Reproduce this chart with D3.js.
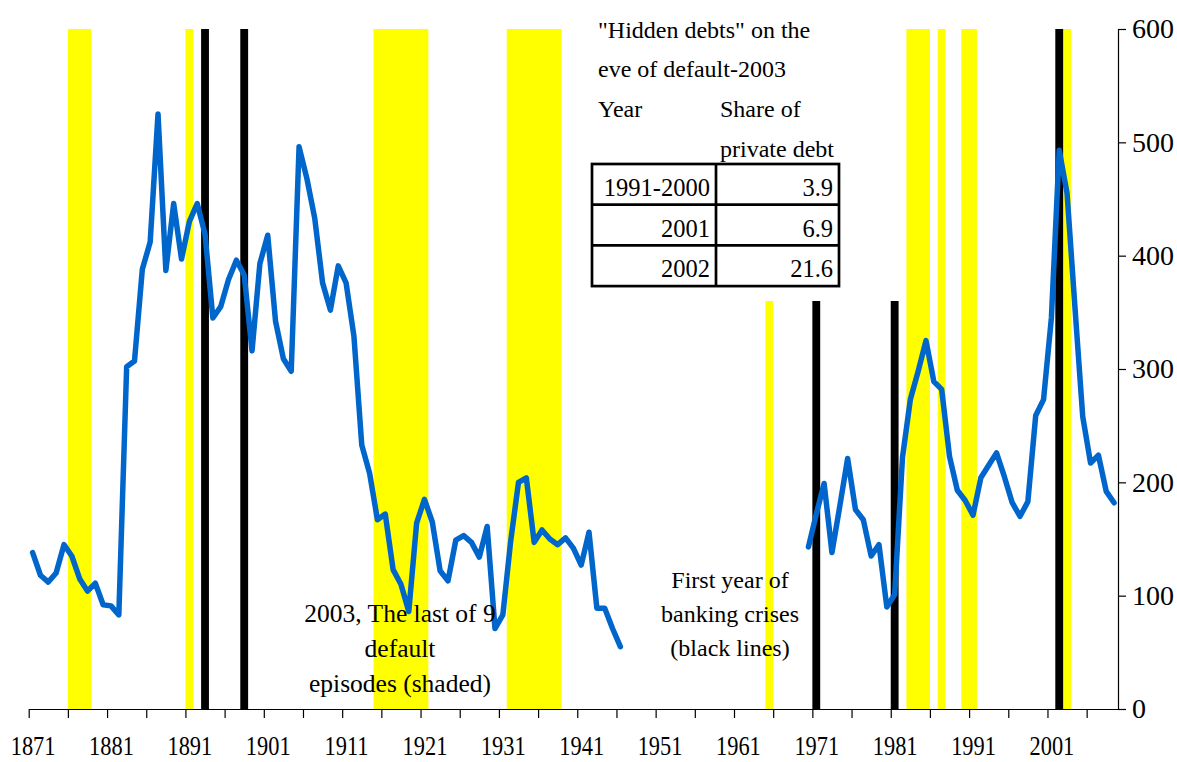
<!DOCTYPE html>
<html>
<head>
<meta charset="utf-8">
<script src="https://cdn.jsdelivr.net/npm/d3@7"></script>
<style>
  body { margin: 0; background: #fff; }
  text { font-family: "Liberation Serif", "Times New Roman", serif; fill: #000; }
</style>
</head>
<body>
<svg width="1177" height="762"></svg>
<script>
// debt series, two stretches with a gap in between
const earlyStart = 1871;
const debtEarly = [
  138, 118, 112, 120, 145, 135, 115, 104, 111, 92, 91, 83,
  302, 307, 388, 412, 525, 387, 446, 397, 430, 446, 419,
  345, 355, 379, 396, 383, 316, 393, 418, 342, 309, 298,
  496, 468, 433, 376, 352, 391, 376, 329, 233, 208, 167,
  172, 123, 110, 86, 164, 185, 165, 122, 113, 149, 153,
  147, 134, 161, 71, 83, 148, 200, 204, 147, 158, 150,
  145, 151, 142, 127, 156, 89, 89, 71, 55
];
const lateStart = 1970;
const debtLate = [
  143, 172, 199, 138, 179, 221, 176, 167, 135, 145,
  90, 101, 222, 273, 298, 325, 289, 282, 223, 193,
  184, 171, 204, 215, 226, 205, 182, 170, 183, 259,
  273, 345, 493, 455, 355, 258, 217, 224, 192, 182
];

// default episodes [first year, last year, bar top] and banking crises [year, bar top]
const defaultEpisodes = [
  [1876, 1878, 600], [1891, 1891, 600], [1915, 1921, 600], [1932, 1938, 600],
  [1965, 1965, 360], [1983, 1985, 600], [1987, 1987, 600], [1990, 1991, 600],
  [2003, 2003, 600]
];
const bankingCrises = [[1893, 600], [1898, 600], [1971, 360], [1981, 360], [2002, 600]];

const xTickLabels = ['1871', '1881', '1891', '1901', '1911', '1921', '1931', '1941',
  '1951', '1961', '1971', '1981', '1991', '2001'];
const yTicks = [0, 100, 200, 300, 400, 500, 600];

const tableTitle = ['"Hidden debts" on the', 'eve of default-2003'];
const tableHead = ['Year', 'Share of', 'private debt'];
const tablePeriods = ['1991-2000', '2001', '2002'];
const tableShares = ['3.9', '6.9', '21.6'];

const svg = d3.select('svg');

// year edges on a linear scale; a year's point sits in the middle of its slot
const x = d3.scaleLinear().domain([1871, 2010]).range([28.7, 1118]);
const y = d3.scaleLinear().domain([0, 600]).range([709, 29]);

const data = [];
debtEarly.forEach((v, i) => data.push({ year: earlyStart + i, value: v }));
data.push({ year: 1958, value: null });
debtLate.forEach((v, i) => data.push({ year: lateStart + i, value: v }));

// shaded default episodes
svg.append('g')
  .selectAll('rect')
  .data(defaultEpisodes)
  .enter()
  .append('rect')
  .attr('x', (d) => x(d[0]))
  .attr('width', (d) => x(d[1] + 1) - x(d[0]))
  .attr('y', (d) => y(d[2]))
  .attr('height', (d) => y(0) - y(d[2]))
  .attr('fill', '#ffff00');

// banking crises
svg.append('g')
  .selectAll('rect')
  .data(bankingCrises)
  .enter()
  .append('rect')
  .attr('x', (d) => x(d[0]))
  .attr('width', (d) => x(d[0] + 1) - x(d[0]))
  .attr('y', (d) => y(d[1]))
  .attr('height', (d) => y(0) - y(d[1]))
  .attr('fill', '#000');

// axes
const xAxis = svg.append('g')
  .attr('transform', `translate(0,${y(0)})`)
  .call(d3.axisBottom(x)
    .tickValues(d3.range(1871, 2010, 5))
    .tickSize(9)
    .tickSizeOuter(0)
    .tickFormat(''));
xAxis.selectAll('path, line').attr('stroke', '#000').attr('stroke-width', 1.2);

const xLab = svg.append('g')
  .attr('transform', `translate(0,${y(0)})`)
  .call(d3.axisBottom(x)
    .tickValues(xTickLabels.map((t) => +t + 0.5))
    .tickSize(0)
    .tickPadding(0)
    .tickFormat((d, i) => xTickLabels[i]));
xLab.select('.domain').remove();
// the year labels are narrow in the original
xLab.selectAll('text')
  .attr('font-size', 28)
  .attr('y', 0)
  .attr('dy', 0)
  .attr('transform', 'translate(0,46) scale(0.8,1)');

const yAxis = svg.append('g')
  .attr('transform', `translate(${x(2010)},0)`)
  .call(d3.axisRight(y)
    .tickValues(yTicks)
    .tickSize(8)
    .tickSizeOuter(0)
    .tickPadding(6));
yAxis.selectAll('path, line').attr('stroke', '#000').attr('stroke-width', 1.2);
yAxis.selectAll('text').attr('font-size', 28);

// the debt line
const line = d3.line()
  .defined((d) => d.value !== null)
  .x((d) => x(d.year + 0.5))
  .y((d) => y(d.value));

svg.append('path')
  .datum(data)
  .attr('d', line)
  .attr('fill', 'none')
  .attr('stroke', '#0066cc')
  .attr('stroke-width', 5.5)
  .attr('stroke-linejoin', 'round')
  .attr('stroke-linecap', 'round');

// notes
const note1 = svg.append('text').attr('font-size', 25.5).attr('text-anchor', 'middle');
['2003, The last of 9', 'default', 'episodes (shaded)'].forEach((t, i) => {
  note1.append('tspan').attr('x', 400).attr('y', 622 + i * 35).text(t);
});
const note2 = svg.append('text').attr('font-size', 24).attr('text-anchor', 'middle');
['First year of', 'banking crises', '(black lines)'].forEach((t, i) => {
  note2.append('tspan').attr('x', 730).attr('y', 588 + i * 34).text(t);
});

// hidden debts table
const tbl = svg.append('g');
tableTitle.forEach((t, i) => {
  tbl.append('text').attr('x', 598).attr('y', 38 + i * 39).attr('font-size', 24).text(t);
});
tbl.append('text').attr('x', 598).attr('y', 117).attr('font-size', 24).text(tableHead[0]);
tbl.append('text').attr('x', 720).attr('y', 117).attr('font-size', 24).text(tableHead[1]);
tbl.append('text').attr('x', 720).attr('y', 157).attr('font-size', 24).text(tableHead[2]);

const rowTop = 164, rowH = 40.7, colL = 592, colM = 716, colR = 839;
tablePeriods.forEach((p, i) => {
  tbl.append('text').attr('x', colM - 6).attr('y', rowTop + rowH * i + 32)
    .attr('font-size', 24.5).attr('text-anchor', 'end').text(p);
  tbl.append('text').attr('x', colR - 6).attr('y', rowTop + rowH * i + 32)
    .attr('font-size', 24.5).attr('text-anchor', 'end').text(tableShares[i]);
});
tbl.append('rect')
  .attr('x', colL).attr('y', rowTop)
  .attr('width', colR - colL).attr('height', rowH * 3)
  .attr('fill', 'none').attr('stroke', '#000').attr('stroke-width', 2.7);
tbl.append('line').attr('x1', colM).attr('x2', colM).attr('y1', rowTop).attr('y2', rowTop + rowH * 3)
  .attr('stroke', '#000').attr('stroke-width', 2.7);
[1, 2].forEach((r) => {
  tbl.append('line').attr('x1', colL).attr('x2', colR)
    .attr('y1', rowTop + rowH * r).attr('y2', rowTop + rowH * r)
    .attr('stroke', '#000').attr('stroke-width', 2.7);
});
</script>
</body>
</html>
